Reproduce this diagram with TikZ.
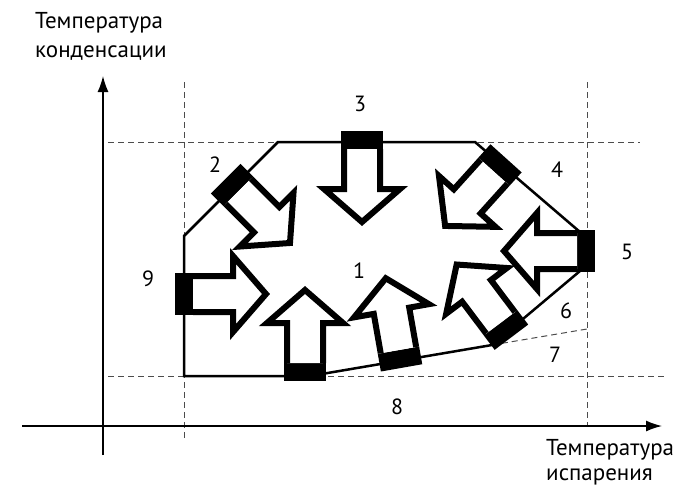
\documentclass[tikz,border=0pt]{standalone}
\usepackage{fontspec}
\setmainfont{PT Sans}
\usetikzlibrary{arrows.meta,positioning}

\tikzset{
  heatarrow/.pic={
    \fill (-9,-21) rectangle (9,21);
    \draw[line width=6,fill=white] (9,-18) -- (49,-18) -- (49,-38) -- (82,0) -- (49,38) -- (49,18) -- (9,18);
  },
  limit/.style={draw=black!70,line width=1,dash pattern=on 6pt off 4pt},
  axis/.style={line width=1.4,-{Latex[length=16,width=11]}},
  border/.style={line width=2.5,line join=miter},
  zone/.style={inner sep=0,font=\fontsize{22}{29}\selectfont},
  axislabel/.style={inner sep=0,align=left,font=\fontsize{23}{29}\selectfont}
}

\begin{document}
\begin{tikzpicture}[x=1pt,y=-1pt]
  \useasboundingbox (0,0) rectangle (679,488);

  % limits of the working range
  \draw[limit] (184,82) -- (184,440);
  \draw[limit] (587,82) -- (587,425);
  \draw[limit] (108,142) -- (640,142);
  \draw[limit] (108,376) -- (665,376);

  % axes
  \coordinate (o1) at (103,455);
  \coordinate (ytip) at (103,76);
  \coordinate (o2) at (22,426);
  \coordinate (xtip) at (662,426);
  \draw[axis] (o1) -- (ytip);
  \draw[axis] (o2) -- (xtip);

  % boundary of the envelope
  \coordinate (p1) at (184,236);
  \coordinate (p2) at (278,142);
  \coordinate (p3) at (475,142);
  \coordinate (p4) at (580,232);
  \coordinate (p5) at (580,271);
  \coordinate (p6) at (492,345);
  \coordinate (p7) at (310,376);
  \coordinate (p8) at (184,376);
  \coordinate (q6) at (587,329);
  \draw[border] (p1) -- (p2) -- (p3) -- (p4) -- (p5) -- (p6) -- (p7) -- (p8) -- cycle;
  \draw[limit] (p6) -- (q6);

  % arrows pushing inwards
  \pic[rotate=0]    at (184,294) {heatarrow};
  \pic[rotate=-45]  at (232,185) {heatarrow};
  \pic[rotate=-90]  at (362,140) {heatarrow};
  \pic[rotate=228]  at (500,165) {heatarrow};
  \pic[rotate=180]  at (586,251) {heatarrow};
  \pic[rotate=90]   at (305,372) {heatarrow};
  \pic[rotate=100]  at (400,359) {heatarrow};
  \pic[rotate=127]  at (506,330) {heatarrow};

  % zone numbers
  \node (n1) [zone] at (359,271) {1};
  \node (n2) [zone] at (215,165) {2};
  \node (n3) [zone] at (360,104) {3};
  \node (n4) [zone] at (557,170) {4};
  \node (n5) [zone] at (627,252) {5};
  \node (n6) [zone] at (566,311) {6};
  \node (n7) [zone] at (555,355) {7};
  \node (n8) [zone] at (397,407) {8};
  \node (n9) [zone] at (148,279) {9};

  % axis titles
  \node (ylabel) [axislabel,anchor=north west] at (35,12) {Температура\\конденсации};
  \node (xlabel) [axislabel,anchor=north west,font=\fontsize{23}{25}\selectfont] at (546,439) {Температура\\испарения};
\end{tikzpicture}
\end{document}
